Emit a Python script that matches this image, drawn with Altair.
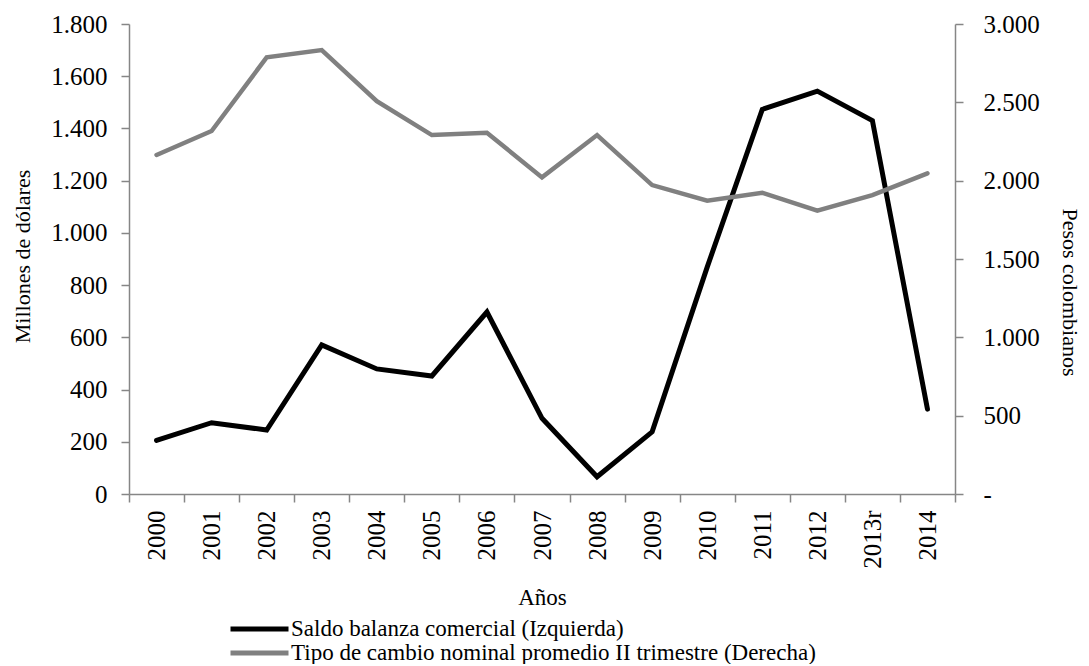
import altair as alt
import pandas as pd

years = ["2000", "2001", "2002", "2003", "2004", "2005", "2006", "2007",
         "2008", "2009", "2010", "2011", "2012", "2013r", "2014"]
saldo_balanza = [205, 273, 245, 571, 479, 452, 697, 290, 66, 238, 869, 1473, 1543, 1430, 325]
tipo_cambio = [2164, 2317, 2787, 2834, 2508, 2291, 2306, 2021, 2291, 1972, 1872, 1923, 1808, 1908, 2047]

serie_izq = "Saldo balanza comercial (Izquierda)"
serie_der = "Tipo de cambio nominal promedio II trimestre (Derecha)"

left_ticks = [0, 200, 400, 600, 800, 1000, 1200, 1400, 1600, 1800]
right_ticks = [0, 500, 1000, 1500, 2000, 2500, 3000]

df = pd.DataFrame({
    "year": years * 2,
    "serie": [serie_izq] * len(years) + [serie_der] * len(years),
    "valor": saldo_balanza + tipo_cambio,
})

FONT = "Liberation Serif"
GRAY = "#868686"

x_enc = alt.X(
    "year:O", sort=years, title="Años",
    scale=alt.Scale(type="band", paddingInner=0, paddingOuter=0),
    axis=alt.Axis(labelAngle=270, tickBand="extent", tickSize=8, labelPadding=8,
                  titleX=413, titleY=103, titleBaseline="middle", titleAlign="center",
                  titleFontSize=23),
)

color_enc = alt.Color(
    "serie:N",
    scale=alt.Scale(domain=[serie_izq, serie_der], range=["#000000", "#808080"]),
    legend=alt.Legend(
        title=None, orient="none", legendX=99, legendY=593, direction="vertical",
        symbolType="stroke", symbolSize=3364, symbolStrokeWidth=5, clipHeight=24,
        labelFont=FONT, labelFontSize=23, labelColor="#000000", labelOffset=0,
        rowPadding=0, padding=0, labelLimit=1000,
    ),
)

fmt = "replace(format(datum.value, ',.0f'), ',', '.')"

left = alt.Chart(df).transform_filter(
    alt.datum.serie == serie_izq
).mark_line(strokeWidth=5, strokeCap="round").encode(
    x=x_enc,
    y=alt.Y("valor:Q", scale=alt.Scale(domain=[0, 1800], nice=False),
            axis=alt.Axis(orient="left", values=left_ticks, labelExpr=fmt, title="Millones de dólares",
                          tickSize=8, labelPadding=14, titleAngle=270, titleX=-107, titleY=232,
                          titleAlign="center", titleBaseline="middle", titleFontSize=22)),
    color=color_enc,
)

right = alt.Chart(df).transform_filter(
    alt.datum.serie == serie_der
).mark_line(strokeWidth=4.5, strokeCap="round").encode(
    x=x_enc,
    y=alt.Y("valor:Q", scale=alt.Scale(domain=[0, 3000], nice=False),
            axis=alt.Axis(orient="right", values=right_ticks,
                          labelExpr="datum.value == 0 ? '-' : " + fmt,
                          title="Pesos colombianos",
                          tickSize=8, labelPadding=20, titleAngle=90, titleX=114, titleY=268,
                          titleAlign="center", titleBaseline="middle", titleFontSize=22)),
    color=color_enc,
)

chart = alt.layer(left, right).resolve_scale(y="independent").properties(
    width=826, height=470,
    autosize=alt.AutoSizeParams(type="none"),
    padding={"left": 121, "top": 16, "right": 126, "bottom": 170},
    background="white",
).configure_view(stroke=None).configure_axis(
    grid=False, domainColor=GRAY, tickColor=GRAY, domainWidth=1.5, tickWidth=1.5,
    labelFont=FONT, labelFontSize=25, labelColor="#000000",
    titleFont=FONT, titleFontSize=23, titleFontWeight="normal", titleColor="#000000",
)

chart.save("out.html", embed_options={"renderer": "svg", "actions": False})
